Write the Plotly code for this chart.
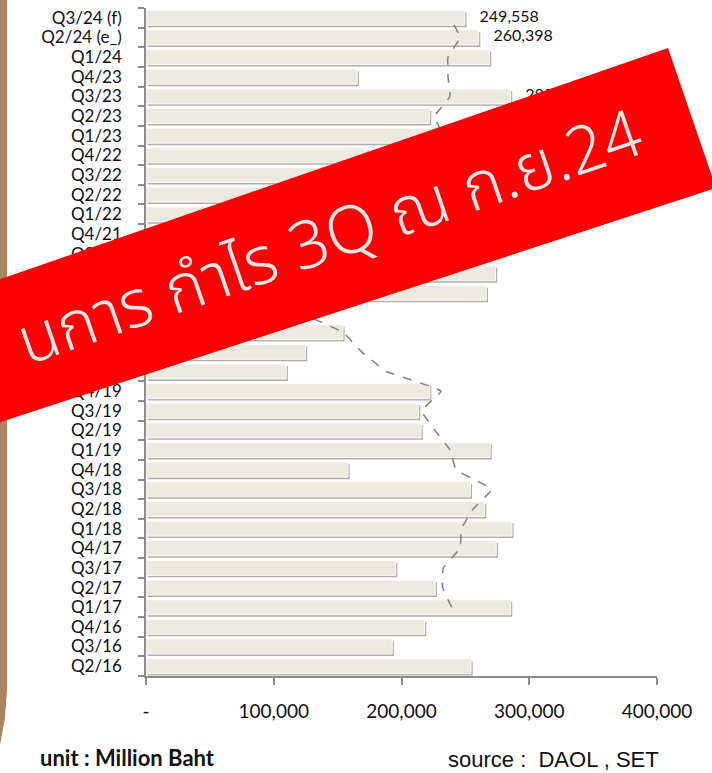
import plotly.graph_objects as go

# ---------------- data ----------------
categories = ["Q2/16", "Q3/16", "Q4/16",
              "Q1/17", "Q2/17", "Q3/17", "Q4/17",
              "Q1/18", "Q2/18", "Q3/18", "Q4/18",
              "Q1/19", "Q2/19", "Q3/19", "Q4/19",
              "Q1/20", "Q2/20", "Q3/20", "Q4/20",
              "Q1/21", "Q2/21", "Q3/21", "Q4/21",
              "Q1/22", "Q2/22", "Q3/22", "Q4/22",
              "Q1/23", "Q2/23", "Q3/23", "Q4/23",
              "Q1/24", "Q2/24 (e_)", "Q3/24 (f)"]

profit = [254400, 192800, 218100,
          285400, 226400, 195400, 274200,
          286400, 265100, 253900, 158100,
          269400, 215400, 213400, 222000,
          109800, 124900, 154200, 100000,
          266400, 273600, 230000, 200000,
          285000, 250000, 239000, 173000,
          269000, 222000, 285400, 165400,
          269000, 260398, 249558]

avg_categories = categories[3:]
avg_values = [239300, 232200, 232700, 245800,
              247000, 256000, 270600, 242700,
              238000, 226200, 215800, 230900,
              188400, 168800, 154000, 122000,
              161000, 198000, 217000, 242000,
              247000, 241000, 243500, 236700,
              232700, 226000, 238000, 236400,
              236400, 245800, 238000]

label_categories = ["Q3/23", "Q2/24 (e_)", "Q3/24 (f)"]
label_values = [285400, 260398, 249558]

x_tickvals = [0, 100000, 200000, 300000, 400000]
x_ticktext = ["-", "100,000", "200,000", "300,000", "400,000"]

banner_text = "นการ กำไร 3Q ณ ก.ย.24"
unit_text = "unit : Million Baht"
source_text = "source :\u00a0\u00a0DAOL , SET"

# ---------------- layout geometry (pixels) ----------------
W, H = 712, 773
PL, PR, PT, PB = 146, 657, 8, 676


def px(x):
    return (x - PL) / (PR - PL)


def py(y):
    return (PB - y) / (PB - PT)


def path(points):
    s = "M " + " L ".join(f"{px(x):.5f},{py(y):.5f}" for x, y in points) + " Z"
    return s


BAR_W = 0.76
TICK_FONT = dict(family="Lato, Carlito, Calibri, sans-serif", size=17, color="#111111")

fig = go.Figure()

# shadow of bars
fig.add_trace(go.Bar(
    x=profit, y=categories, orientation="h",
    base=1300, width=BAR_W, offset=-BAR_W / 2 - 0.1,
    marker=dict(color="rgba(105,105,105,0.55)", line=dict(width=0)),
    hoverinfo="skip", showlegend=False,
))
# bars
fig.add_trace(go.Bar(
    x=profit, y=categories, orientation="h",
    width=BAR_W, offset=-BAR_W / 2,
    marker=dict(color="#ECEADF", line=dict(color="#FBFBF8", width=1)),
    showlegend=False,
))
# 4-quarter average dashed line
fig.add_trace(go.Scatter(
    x=avg_values, y=avg_categories, mode="lines",
    line=dict(color="#7F7F7F", width=1.5, dash="dash", shape="spline", smoothing=0.3),
    showlegend=False,
))
# value labels
fig.add_trace(go.Scatter(
    x=label_values, y=label_categories, mode="markers+text",
    marker=dict(size=22, color="rgba(0,0,0,0)"),
    texttemplate="%{x:,.0f}", textposition="middle right",
    textfont=dict(family="Lato, Carlito, Calibri, sans-serif", size=16, color="#111111"),
    showlegend=False, hoverinfo="skip",
))

shapes = []
# brown frame strip on left
shapes.append(dict(
    type="path", xref="paper", yref="paper", layer="above",
    path=path([(-3, 0), (7, 0), (7, 690), (5, 718), (0, 745), (-3, 750)]),
    fillcolor="#A8855E", line=dict(width=0),
))
# red banner
banner = [(668, 48), (712 + 4, 176 + 12), (-60, 442), (-60, 300)]
shapes.append(dict(
    type="path", xref="paper", yref="paper", layer="above",
    path=path(banner), fillcolor="#FF0000", line=dict(width=0),
))

annotations = [
    dict(text=banner_text, xref="paper", yref="paper",
         x=px(330), y=py(240), xanchor="center", yanchor="middle",
         textangle=-19, showarrow=False,
         font=dict(family="Noto Sans Thai, Noto Sans, sans-serif", size=66,
                   color="#E8E8E8", weight=300)),
    dict(text=unit_text, xref="paper", yref="paper",
         x=px(38), y=py(757), xanchor="left", yanchor="middle", showarrow=False,
         font=dict(family="Lato, Carlito, sans-serif", size=22, color="#111111", weight="bold")),
    dict(text=source_text, xref="paper", yref="paper",
         x=px(446), y=py(759), xanchor="left", yanchor="middle", showarrow=False,
         font=dict(family="Liberation Sans, Arial, sans-serif", size=22, color="#111111")),
]

fig.update_layout(
    width=W, height=H,
    margin=dict(l=PL, r=W - PR, t=PT, b=H - PB),
    paper_bgcolor="white", plot_bgcolor="white",
    barmode="overlay",
    showlegend=False,
    shapes=shapes,
    annotations=annotations,
    xaxis=dict(
        range=[0, 400000], tickvals=x_tickvals, ticktext=x_ticktext,
        showgrid=False, zeroline=False,
        showline=True, linecolor="#8C8C8C", linewidth=1.5,
        ticks="outside", ticklen=7, tickcolor="#8C8C8C", tickwidth=1.5,
        ticklabelstandoff=10, tickfont=dict(TICK_FONT, size=19),
    ),
    yaxis=dict(
        type="category", categoryorder="array", categoryarray=categories,
        tickmode="array", tickvals=categories, ticktext=categories,
        range=[-0.5, len(categories) - 0.5],
        showgrid=False, zeroline=False,
        showline=True, linecolor="#8C8C8C", linewidth=1.5,
        ticks="outside", ticklen=6, tickcolor="#8C8C8C", tickwidth=1.5,
        tickson="boundaries", ticklabelstandoff=19, tickfont=TICK_FONT,
    ),
)

fig.write_html("out.html", config={"displayModeBar": False},
               post_script="document.body.style.margin='0px';")
